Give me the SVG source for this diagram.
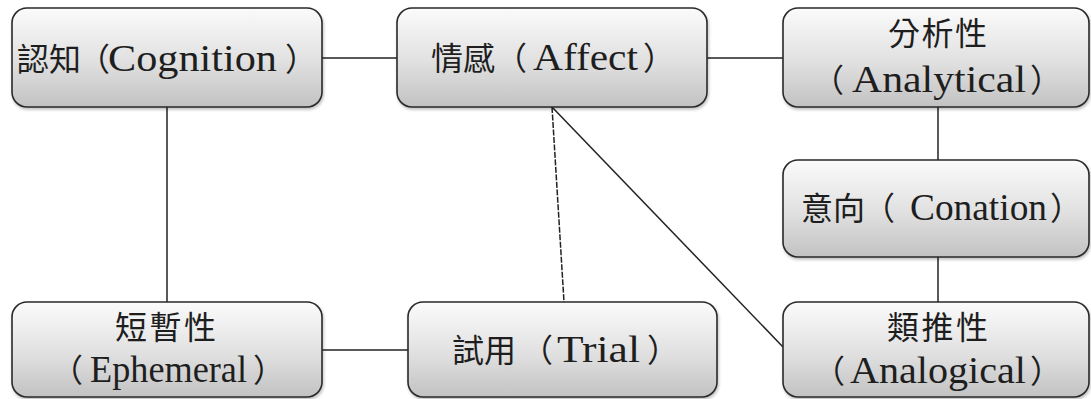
<svg xmlns="http://www.w3.org/2000/svg" width="1091" height="399" viewBox="0 0 1091 399">
  <defs>
    <linearGradient id="boxFill" x1="0" y1="0" x2="0" y2="1">
      <stop offset="0" stop-color="#fbfbfb"/>
      <stop offset="0.55" stop-color="#e0e0e0"/>
      <stop offset="1" stop-color="#c2c2c2"/>
    </linearGradient>
    <filter id="shadow" x="-5%" y="-5%" width="110%" height="120%">
      <feGaussianBlur in="SourceAlpha" stdDeviation="1.5"/>
      <feOffset dx="1" dy="2" result="b"/>
      <feComponentTransfer><feFuncA type="linear" slope="0.25"/></feComponentTransfer>
      <feMerge><feMergeNode/><feMergeNode in="SourceGraphic"/></feMerge>
    </filter>
  </defs>
  <style>
    .box { fill: url(#boxFill); stroke: #2a2a2a; stroke-width: 1.6; filter: url(#shadow); }
    .lbl { font-family: "Noto Sans CJK TC", "Liberation Serif", serif; font-size: 32px; fill: #1e1e1e; }
    .lat { font-family: "Liberation Serif", "Noto Sans CJK TC", serif; font-size: 38px; }
    .edge { stroke: #222; stroke-width: 1.5; fill: none; }
    .dash { stroke-dasharray: 6 1.5; }
  </style>
  <rect width="1091" height="399" fill="#ffffff"/>

  <g id="connectors">
    <line class="edge" x1="322" y1="58" x2="397" y2="58"/>
    <line class="edge" x1="707" y1="58" x2="783" y2="58"/>
    <line class="edge" x1="167" y1="107" x2="167" y2="302"/>
    <line class="edge" x1="938" y1="107" x2="938" y2="160"/>
    <line class="edge" x1="938" y1="257" x2="938" y2="302"/>
    <line class="edge" x1="322" y1="350" x2="408" y2="350"/>
    <line class="edge dash" x1="552" y1="107" x2="564" y2="302"/>
    <line class="edge" x1="552" y1="107" x2="783" y2="347"/>
  </g>

  <g id="cognition">
    <rect class="box" x="12" y="8" width="310" height="99" rx="15"/>
    <text class="lbl" y="71"><tspan x="17">認知</tspan><tspan x="78">（</tspan><tspan class="lat" x="108" textLength="169" lengthAdjust="spacingAndGlyphs">Cognition</tspan><tspan x="285">）</tspan></text>
  </g>

  <g id="affect">
    <rect class="box" x="397" y="8" width="310" height="99" rx="15"/>
    <text class="lbl" y="70"><tspan x="431">情感</tspan><tspan x="495">（</tspan><tspan class="lat" x="533" textLength="105" lengthAdjust="spacingAndGlyphs">Affect</tspan><tspan x="643">）</tspan></text>
  </g>

  <g id="analytical">
    <rect class="box" x="783" y="8" width="306" height="99" rx="15"/>
    <text class="lbl" x="888" y="45" textLength="99">分析性</text>
    <text class="lbl" y="92"><tspan x="812">（</tspan><tspan class="lat" x="852" textLength="174" lengthAdjust="spacingAndGlyphs">Analytical</tspan><tspan x="1030">）</tspan></text>
  </g>

  <g id="conation">
    <rect class="box" x="783" y="160" width="306" height="97" rx="15"/>
    <text class="lbl" y="220"><tspan x="801">意向</tspan><tspan x="863">（</tspan><tspan class="lat" x="910" textLength="137" lengthAdjust="spacingAndGlyphs">Conation</tspan><tspan x="1050">）</tspan></text>
  </g>

  <g id="ephemeral">
    <rect class="box" x="12" y="302" width="310" height="95" rx="15"/>
    <text class="lbl" x="115" y="339" textLength="101">短暫性</text>
    <text class="lbl" y="382"><tspan x="51">（</tspan><tspan class="lat" x="90" textLength="157" lengthAdjust="spacingAndGlyphs">Ephemeral</tspan><tspan x="253">）</tspan></text>
  </g>

  <g id="trial">
    <rect class="box" x="408" y="302" width="309" height="95" rx="15"/>
    <text class="lbl" y="362"><tspan x="452">試用</tspan><tspan x="521">（</tspan><tspan class="lat" x="557" textLength="83" lengthAdjust="spacingAndGlyphs">Trial</tspan><tspan x="647">）</tspan></text>
  </g>

  <g id="analogical">
    <rect class="box" x="783" y="302" width="306" height="95" rx="15"/>
    <text class="lbl" x="887" y="339" textLength="101">類推性</text>
    <text class="lbl" y="383"><tspan x="813">（</tspan><tspan class="lat" x="850" textLength="176" lengthAdjust="spacingAndGlyphs">Analogical</tspan><tspan x="1030">）</tspan></text>
  </g>
</svg>
